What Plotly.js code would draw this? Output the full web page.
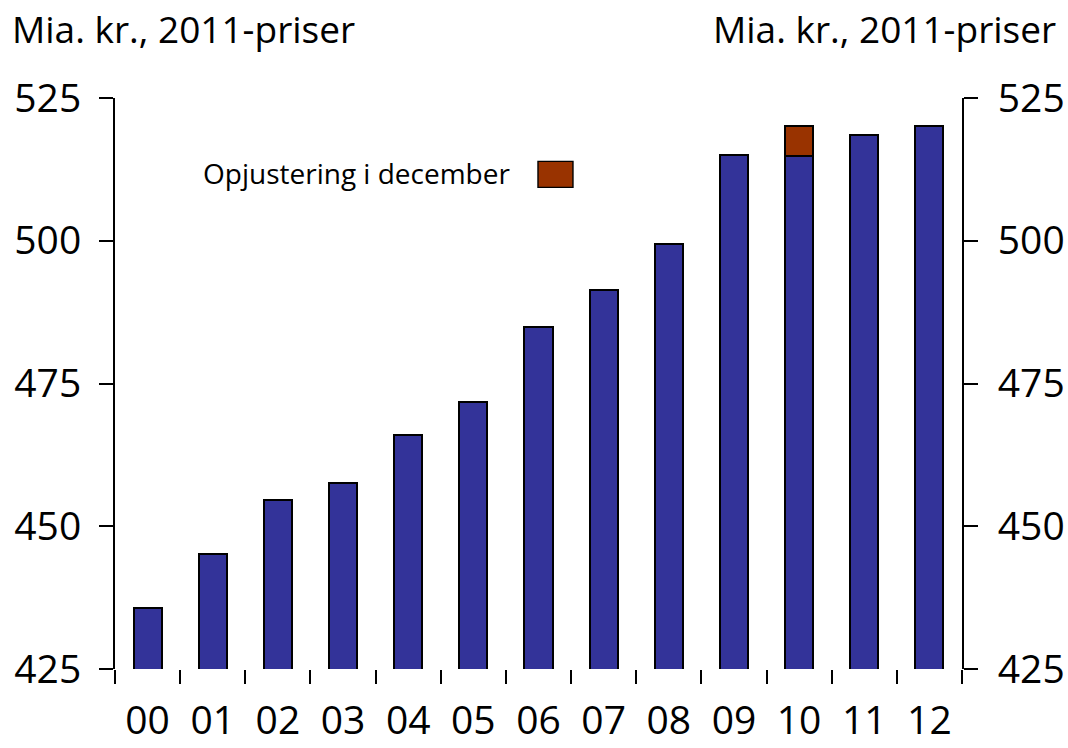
<!DOCTYPE html>
<html>
<head>
<meta charset="utf-8">
<script src="https://cdn.plot.ly/plotly-3.0.1.min.js"></script>
<style>
html,body{margin:0;padding:0;background:#fff;}
#chart{width:1068px;height:748px;}
</style>
</head>
<body>
<div id="chart"></div>
<script>
const years = ["00","01","02","03","04","05","06","07","08","09","10","11","12"];
const baseValues = [435.6, 445.2, 454.6, 457.6, 465.9, 471.7, 484.9, 491.3, 499.4, 515.0, 514.9, 518.6, 520.1];
const adjustValues = [null, null, null, null, null, null, null, null, null, null, 5.2, null, null];
const yTicks = [425, 450, 475, 500, 525];
const unitLabel = "Mia. kr., 2011-priser";
const legendLabel = "Opjustering i december";

const FONT = "Open Sans, Noto Sans, sans-serif";
const blue = "#333399";
const red = "#993300";

const traces = [
  {
    type: "bar", x: years, y: baseValues, name: "Base",
    marker: {color: blue, line: {color: "#000", width: 2}},
    width: 0.43, showlegend: false, hoverinfo: "skip"
  },
  {
    type: "bar", x: years, y: adjustValues, name: legendLabel,
    marker: {color: red, line: {color: "#000", width: 2}},
    width: 0.43, showlegend: false, hoverinfo: "skip"
  },
  {
    type: "scatter", x: years, y: baseValues, yaxis: "y2",
    mode: "none", showlegend: false, hoverinfo: "skip"
  }
];

const axisY = {
  range: [425, 525], tickvals: yTicks, ticktext: yTicks.map(String),
  showgrid: false, zeroline: false, showline: true, linecolor: "#000", linewidth: 2,
  ticks: "outside", ticklen: 14, tickwidth: 2, tickcolor: "#000",
  tickfont: {family: FONT, size: 39, color: "#000"}, fixedrange: true
};

const layout = {
  width: 1068, height: 748,
  margin: {l: 115, r: 106, t: 98, b: 79},
  paper_bgcolor: "#fff", plot_bgcolor: "#fff",
  barmode: "stack", showlegend: false,
  xaxis: {
    type: "category", showgrid: false, zeroline: false,
    showline: false, ticks: "outside", tickson: "boundaries",
    ticklen: 14, tickwidth: 2, tickcolor: "#000",
    tickfont: {family: FONT, size: 39, color: "#000"},
    ticklabelstandoff: 25, fixedrange: true
  },
  yaxis: Object.assign({}, axisY, {side: "left", ticklabelstandoff: 10}),
  yaxis2: Object.assign({}, axisY, {side: "right", overlaying: "y", ticklabelstandoff: 12}),
  annotations: [
    {text: unitLabel, xref: "paper", yref: "paper", x: -0.124, y: 1.122,
     xanchor: "left", yanchor: "middle", showarrow: false,
     font: {family: FONT, size: 37, color: "#000"}},
    {text: unitLabel, xref: "paper", yref: "paper", x: 1.113, y: 1.122,
     xanchor: "right", yanchor: "middle", showarrow: false,
     font: {family: FONT, size: 37, color: "#000"}},
    {text: legendLabel, xref: "paper", yref: "paper", x: 0.102, y: 0.869,
     xanchor: "left", yanchor: "middle", showarrow: false,
     font: {family: FONT, size: 28, color: "#000"}}
  ],
  shapes: [
    {type: "rect", xref: "paper", yref: "paper",
     x0: 0.4994, x1: 0.5407, y0: 0.8434, y1: 0.889,
     fillcolor: red, line: {color: "#000", width: 1.4}}
  ]
};

Plotly.newPlot("chart", traces, layout, {displayModeBar: false, staticPlot: true});
</script>
</body>
</html>
